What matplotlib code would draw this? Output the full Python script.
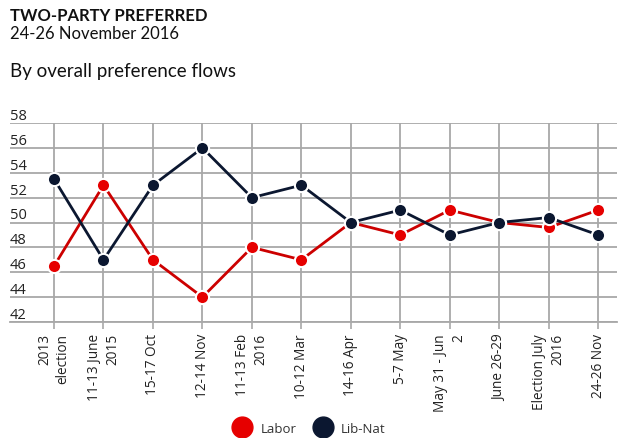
import matplotlib.pyplot as plt
import matplotlib.transforms as mtransforms
from matplotlib.lines import Line2D

plt.rcParams['font.family'] = ['Open Sans', 'DejaVu Sans']

polls = ['2013\nelection', '11-13 June\n2015', '15-17 Oct', '12-14 Nov',
         '11-13 Feb\n2016', '10-12 Mar', '14-16 Apr', '5-7 May',
         'May 31 - Jun\n2', 'June 26-29', 'Election July\n2016', '24-26 Nov']
labor = [46.5, 53, 47, 44, 48, 47, 50, 49, 51, 50, 49.6, 51]
libnat = [53.5, 47, 53, 56, 52, 53, 50, 51, 49, 50, 50.4, 49]
yticks = [42, 44, 46, 48, 50, 52, 54, 56, 58]

red = '#e60000'
red_line = '#cc0000'
navy = '#0b1730'
grid_c = '#a8a8a8'
txt = '#222222'

fig = plt.figure(figsize=(6.4, 4.39), dpi=100)
ax = fig.add_axes([10 / 640, 1 - 323 / 439, 607 / 640, 199 / 439])

x = range(len(polls))
ax.plot(x, labor, color=red_line, lw=2, zorder=3)
ax.plot(x, labor, 'o', ms=9.5, mfc=red, mec='white', mew=1.5, zorder=4)
ax.plot(x, libnat, color=navy, lw=2, zorder=3)
ax.plot(x, libnat, 'o', ms=9.5, mfc=navy, mec='white', mew=1.5, zorder=4)

ax.set_xlim(-0.89, 11.38)
ax.set_ylim(42, 58)
ax.set_yticks(yticks)
ax.set_xticks(list(x))
ax.set_xticklabels(polls, rotation=90, ha='center', va='top',
                   multialignment='right', fontsize=9.8, color=txt,
                   linespacing=1.3)
ax.tick_params(axis='x', length=5, width=1.2, color=grid_c, pad=3)
ax.tick_params(axis='y', length=0, labelleft=False)
ax.grid(True, color=grid_c, lw=1.3)
ax.set_axisbelow(True)
for s in ['top', 'right', 'left']:
    ax.spines[s].set_visible(False)
ax.spines['bottom'].set_color(grid_c)
ax.spines['bottom'].set_linewidth(1.3)

# y labels sit just above their grid lines
trans = mtransforms.blended_transform_factory(ax.transAxes, ax.transData)
for v in yticks:
    ax.text(0.0, v, str(v), transform=trans, ha='left', va='bottom',
            fontsize=10.5, color=txt)

fig.text(10 / 640, 1 - 8 / 439, 'TWO-PARTY PREFERRED', fontsize=12,
         fontweight='bold', color='#111111', va='top', family='Lato')
fig.text(10 / 640, 1 - 26 / 439, '24-26 November 2016', fontsize=12,
         color='#111111', va='top', family='Lato')
fig.text(10 / 640, 1 - 63 / 439, 'By overall preference flows', fontsize=13.5,
         color='#111111', va='top', family='Lato')

handles = [Line2D([], [], ls='none', marker='o', ms=15, mfc=red, mec=red),
           Line2D([], [], ls='none', marker='o', ms=15, mfc=navy, mec=navy)]
fig.legend(handles, ['Labor', 'Lib-Nat'], loc='lower center',
           bbox_to_anchor=(0.48, -0.02), ncol=2, frameon=False, fontsize=9.5,
           handletextpad=0.4, columnspacing=1.0, labelcolor='#333333')

fig.savefig('out.png', dpi=100)
